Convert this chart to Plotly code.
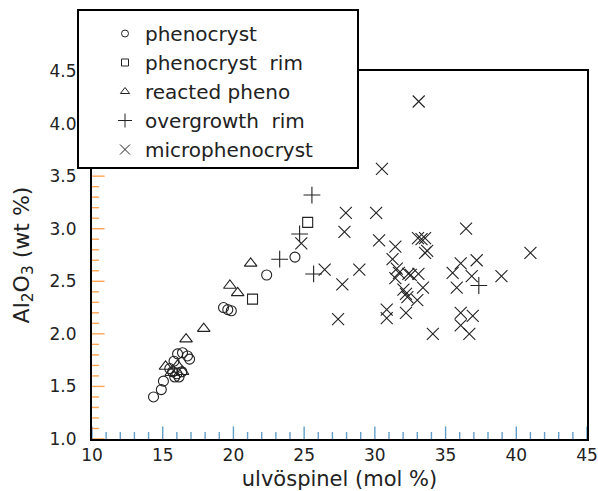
import numpy as np
import plotly.graph_objects as go

# Spinel compositions: ulvöspinel (mol %) vs Al2O3 (wt %)
pheno_x = [14.35, 14.9, 15.05, 15.5, 15.7, 15.85, 16.0, 16.15, 16.35, 15.8, 16.05,
           16.4, 16.75, 16.9, 19.3, 19.6, 19.85, 22.35, 24.35]
pheno_y = [1.40, 1.47, 1.55, 1.67, 1.64, 1.59, 1.62, 1.59, 1.64, 1.74, 1.81,
           1.82, 1.79, 1.76, 2.25, 2.23, 2.22, 2.56, 2.73]

rim_x = [21.35, 25.25]
rim_y = [2.33, 3.06]

reacted_x = [15.2, 15.6, 16.05, 16.4, 16.65, 17.9, 19.75, 20.3, 21.22]
reacted_y = [1.69, 1.63, 1.70, 1.64, 1.95, 2.05, 2.46, 2.39, 2.67]

over_x = [23.27, 24.68, 25.55, 25.67, 37.35]
over_y = [2.71, 2.95, 3.32, 2.57, 2.46]

micro_x = [33.1, 30.5, 27.95, 30.09, 27.85, 30.3, 24.8, 26.45, 28.9, 27.7,
           27.4, 31.45, 31.25, 31.55, 31.45, 31.7, 32.37, 32.54, 33.08, 33.05,
           33.3, 33.55, 33.55, 33.7, 33.4, 32.02, 32.2, 32.3, 33.0, 30.84,
           30.84, 32.2, 34.1, 35.5, 36.45, 36.07, 37.2, 36.85, 38.95, 35.79,
           36.07, 36.92, 36.07, 36.68, 41.0]
micro_y = [4.21, 3.57, 3.15, 3.15, 2.97, 2.89, 2.86, 2.61, 2.61, 2.47,
           2.14, 2.83, 2.71, 2.62, 2.53, 2.58, 2.57, 2.56, 2.57, 2.91,
           2.90, 2.91, 2.77, 2.79, 2.44, 2.42, 2.38, 2.35, 2.32, 2.23,
           2.15, 2.20, 2.00, 2.58, 3.00, 2.67, 2.70, 2.55, 2.55, 2.44,
           2.20, 2.17, 2.08, 2.00, 2.77]

X_RANGE = [10, 45]
Y_RANGE = [1.0, 4.5]
X_MAJOR, X_MINOR = 5, 1
Y_MAJOR, Y_MINOR = 0.5, 0.1

INK = "#222222"
FONT = "DejaVu Sans, Verdana, sans-serif"

# plot area in pixels (for placing the legend frame in paper coordinates)
W, H = 598, 491
L, R, T, B = 92, 11, 71, 52
PW, PH = W - L - R, H - T - B


def px_x(p):
    return (p - L) / PW


def px_y(p):
    return (H - B - p) / PH


series = [
    ("phenocryst", pheno_x, pheno_y, "circle-open", 10, 7),
    ("phenocryst  rim", rim_x, rim_y, "square-open", 10, 7),
    ("reacted pheno", reacted_x, reacted_y, "triangle-up-open", 11, 8),
    ("overgrowth  rim", over_x, over_y, "cross-thin-open", 12, 10),
    ("microphenocryst", micro_x, micro_y, "x-thin-open", 12, 10),
]

fig = go.Figure()

# inward tick marks: line markers centred on the axis, clipped to the plot area
x_ticks = np.round(np.arange(X_RANGE[0], X_RANGE[1] + 1e-9, X_MINOR), 6)
y_ticks = np.round(np.arange(Y_RANGE[0], Y_RANGE[1] + 1e-9, Y_MINOR), 6)
x_size = [18 if abs(v / X_MAJOR - round(v / X_MAJOR)) < 1e-6 else 10 for v in x_ticks]
y_size = [18 if abs(v / Y_MAJOR - round(v / Y_MAJOR)) < 1e-6 else 10 for v in y_ticks]
fig.add_trace(go.Scatter(
    x=x_ticks, y=[Y_RANGE[0]] * len(x_ticks), mode="markers", showlegend=False,
    hoverinfo="skip", cliponaxis=True,
    marker=dict(symbol="line-ns-open", size=x_size, line=dict(color=INK, width=1.4)),
))
fig.add_trace(go.Scatter(
    x=[X_RANGE[0]] * len(y_ticks), y=y_ticks, mode="markers", showlegend=False,
    hoverinfo="skip", cliponaxis=True,
    marker=dict(symbol="line-ew-open", size=y_size, line=dict(color=INK, width=1.4)),
))

for name, xs, ys, sym, size, lsize in series:
    fig.add_trace(go.Scatter(
        x=xs, y=ys, mode="markers", name=name, showlegend=False,
        marker=dict(symbol=sym, size=size, color=INK, line=dict(color=INK, width=1.1)),
    ))
    # legend entry with a smaller symbol
    fig.add_trace(go.Scatter(
        x=[None], y=[None], mode="markers", name=name,
        marker=dict(symbol=sym, size=lsize, color=INK, line=dict(color=INK, width=1)),
    ))

frame = dict(
    tickmode="linear", ticks="",
    showline=True, linecolor="black", linewidth=2, mirror=True,
    showgrid=False, zeroline=False, automargin=False,
    tickfont=dict(family=FONT, size=17, color=INK),
)

fig.update_layout(
    template="none",
    width=W, height=H,
    margin=dict(l=L, r=R, t=T, b=B, autoexpand=False),
    paper_bgcolor="white", plot_bgcolor="white",
    xaxis=dict(
        range=X_RANGE, tick0=X_RANGE[0], dtick=X_MAJOR,
        title=dict(text="ulvöspinel (mol %)", font=dict(family=FONT, size=21, color=INK),
                   standoff=10),
        **frame,
    ),
    yaxis=dict(
        range=Y_RANGE, tick0=Y_RANGE[0], dtick=Y_MAJOR, tickformat=".1f",
        ticklabelstandoff=10,
        title=dict(text="Al<sub>2</sub>O<sub>3</sub> (wt %)",
                   font=dict(family=FONT, size=22, color=INK), standoff=14),
        **frame,
    ),
    showlegend=True,
    legend=dict(
        x=px_x(105), y=px_y(14),
        xanchor="left", yanchor="top",
        bgcolor="rgba(0,0,0,0)", borderwidth=0,
        font=dict(family=FONT, size=20, color=INK),
        itemsizing="trace", itemwidth=30, tracegroupgap=0,
        itemclick=False, itemdoubleclick=False,
    ),
)

# legend frame
fig.add_shape(
    type="rect", xref="paper", yref="paper",
    x0=px_x(78), x1=px_x(358), y0=px_y(168), y1=px_y(10),
    fillcolor="white", line=dict(color="black", width=2), layer="above",
)

fig.write_html("out.html")
